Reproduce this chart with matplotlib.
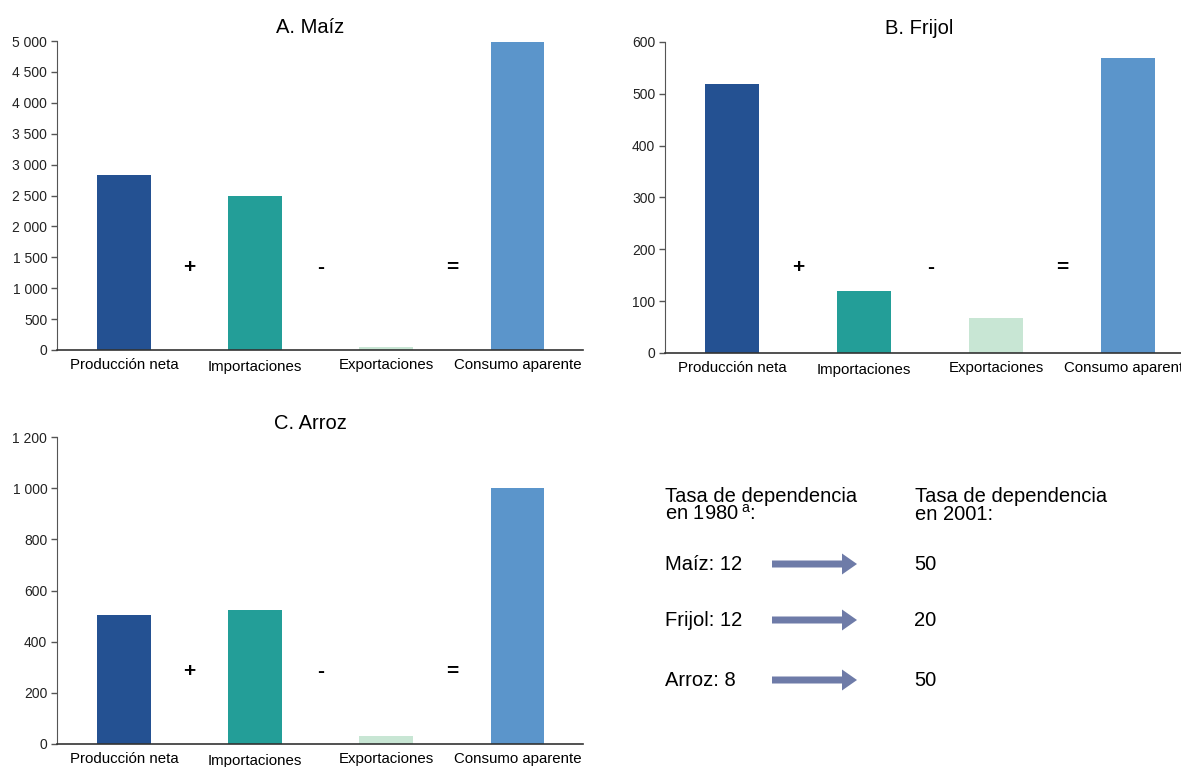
import matplotlib
matplotlib.use("Agg")
import matplotlib.pyplot as plt
from matplotlib.ticker import FuncFormatter, MultipleLocator
from matplotlib.patches import FancyArrow

plt.rcParams['font.family'] = ['Liberation Sans', 'DejaVu Sans']

categories = ["Producción neta", "Importaciones", "Exportaciones", "Consumo aparente"]
maiz = [2830, 2490, 50, 4990]
frijol = [518, 120, 67, 570]
arroz = [505, 522, 30, 1000]
colors = ["#245192", "#239e98", "#c8e6d4", "#5b95cb"]
operators = ["+", "-", "="]

rate_products = ["Maíz", "Frijol", "Arroz"]
rate_1980 = [12, 12, 8]
rate_2001 = [50, 20, 50]

fig = plt.figure(figsize=(11.81, 7.67), dpi=100)

def fmt(v, pos):
    return f"{int(v):,}".replace(",", " ")

def panel(rect, values, title, ymax, step, op_y):
    ax = fig.add_axes(rect)
    x = range(len(categories))
    ax.bar(x, values, width=0.41, color=colors)
    ax.set_xlim(-0.51, 3.5)
    ax.set_ylim(0, ymax)
    ax.yaxis.set_major_locator(MultipleLocator(step))
    ax.yaxis.set_major_formatter(FuncFormatter(fmt))
    ax.set_xticks(list(x))
    ax.set_xticklabels(categories, fontsize=10.8)
    for i, lbl in enumerate(ax.get_xticklabels()):
        if i == 1:
            lbl.set_y(-0.005)
    ax.tick_params(axis='x', length=0, pad=6)
    ax.tick_params(axis='y', length=4, width=1, color="#555555", labelsize=10,
                   labelcolor="#222222", pad=3)
    for s in ['top', 'right']:
        ax.spines[s].set_visible(False)
    ax.spines['left'].set_color("#555555")
    ax.spines['bottom'].set_color("#333333")
    ax.spines['bottom'].set_linewidth(1.2)
    ax.set_title(title, fontsize=14.5, pad=6, x=0.481)
    for i, op in enumerate(operators):
        ax.text(i + 0.5, op_y, op, ha='center', va='center', fontsize=15, fontweight='bold')
    return ax

panel([0.0483, 0.5437, 0.4454, 0.4028], maiz, "A. Maíz", 5000, 500, 1330)
panel([0.5631, 0.5398, 0.448, 0.4055], frijol, "B. Frijol", 600, 100, 165)
panel([0.0483, 0.0300, 0.4454, 0.4002], arroz, "C. Arroz", 1200, 200, 285)

W, H = 1181, 767
def fx(px):
    return px / W
def fy(py):
    return 1 - py / H

fs = 14.5
fig.text(fx(665), fy(502), "Tasa de dependencia", fontsize=fs, va='baseline', ha='left')
fig.text(fx(665), fy(520), "en 1980$\\mathregular{\\,^{a}}$:", fontsize=fs, va='baseline', ha='left')
fig.text(fx(915), fy(502), "Tasa de dependencia", fontsize=fs, va='baseline', ha='left')
fig.text(fx(915), fy(520), "en 2001:", fontsize=fs, va='baseline', ha='left')

row_y = [564, 620, 680]
for p, r0, r1, yy in zip(rate_products, rate_1980, rate_2001, row_y):
    fig.text(fx(665), fy(yy), f"{p}: {r0}", fontsize=fs, va='center', ha='left')
    fig.text(fx(914), fy(yy), f"{r1}", fontsize=fs, va='center', ha='left')
    arr = FancyArrow(fx(772), fy(yy), fx(857) - fx(772), 0,
                     width=7 / H, head_width=21 / H, head_length=fx(15),
                     length_includes_head=True, transform=fig.transFigure,
                     color="#6e7ba8", linewidth=0)
    fig.patches.append(arr)

fig.savefig("out.png", dpi=100)
